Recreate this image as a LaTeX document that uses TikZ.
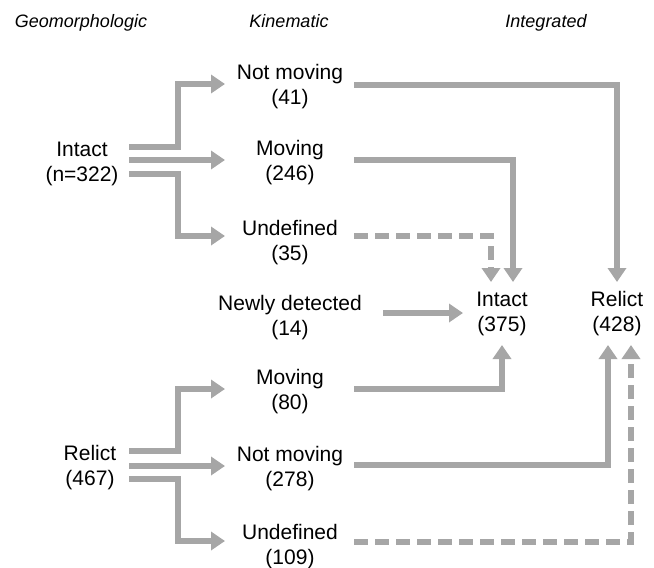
\documentclass[tikz,border=0pt]{standalone}
\usepackage{fontspec}
\setmainfont{Liberation Sans}
\usetikzlibrary{arrows.meta}
\definecolor{flow}{RGB}{166,166,166}
\tikzset{
  lbl/.style={align=center,inner sep=0pt,font=\fontsize{21}{25}\selectfont},
  hdr/.style={anchor=base,inner sep=0pt,font=\fontsize{18}{21}\selectfont\itshape},
  conn/.style={draw=flow,line width=5.5pt,line cap=butt,line join=miter,
    -{Triangle[length=14pt,width=18pt]}},
  dashconn/.style={conn,dash pattern=on 14pt off 7pt}
}
\begin{document}
\begin{tikzpicture}[x=1pt,y=-1pt]
\useasboundingbox (0,0) rectangle (654,568);
% headers
\node[hdr] (hgeo) at (81,27) {Geomorphologic};
\node[hdr] (hkin) at (289,27) {Kinematic};
\node[hdr] (hint) at (546,27) {Integrated};
% geomorphologic
\node[lbl] (gint) at (82,164) {Intact\\(n=322)};
\node[lbl] (grel) at (90,468) {Relict\\(467)};
% kinematic
\node[lbl] (knm1) at (290,87) {Not moving\\(41)};
\node[lbl] (kmv1) at (290,163) {Moving\\(246)};
\node[lbl] (kud1) at (290,243) {Undefined\\(35)};
\node[lbl] (knew) at (290,318) {Newly detected\\(14)};
\node[lbl] (kmv2) at (290,392) {Moving\\(80)};
\node[lbl] (knm2) at (290,469) {Not moving\\(278)};
\node[lbl] (kud2) at (290,547) {Undefined\\(109)};
% integrated
\node[lbl] (iint) at (502,314) {Intact\\(375)};
\node[lbl] (irel) at (617,314) {Relict\\(428)};
% coordinates for connectors
\coordinate (gi1) at (129,147);
\coordinate (gi2) at (129,160);
\coordinate (gi3) at (129,174);
\coordinate (gr1) at (129,451);
\coordinate (gr2) at (129,466);
\coordinate (gr3) at (129,479);
\coordinate (t1) at (225,84);
\coordinate (t2) at (225,160);
\coordinate (t3) at (225,236);
\coordinate (t4) at (225,389);
\coordinate (t5) at (225,466);
\coordinate (t6) at (225,541);
% left connectors
\draw[conn] (gi1) -| (178,115) |- (t1);
\draw[conn] (gi2) -- (t2);
\draw[conn] (gi3) -| (178,200) |- (t3);
\draw[conn] (gr1) -| (178,420) |- (t4);
\draw[conn] (gr2) -- (t5);
\draw[conn] (gr3) -| (178,510) |- (t6);
% right connectors
\coordinate (s1) at (354,85);
\coordinate (s2) at (354,160);
\coordinate (s3) at (354,236);
\coordinate (s4) at (383,313);
\coordinate (s5) at (354,389);
\coordinate (s6) at (354,465);
\coordinate (s7) at (354,542);
\coordinate (e1) at (617,282);
\coordinate (e2) at (513,282);
\coordinate (e3) at (491,282);
\coordinate (e4) at (463,313);
\coordinate (e5) at (502,345);
\coordinate (e6) at (608,345);
\coordinate (e7) at (631,345);
\draw[conn] (s1) -| (e1);
\draw[conn] (s2) -| (e2);
\draw[dashconn] (s3) -| (e3);
\draw[conn] (s4) -- (e4);
\draw[conn] (s5) -| (e5);
\draw[conn] (s6) -| (e6);
\draw[dashconn] (s7) -| (e7);
\end{tikzpicture}
\end{document}
